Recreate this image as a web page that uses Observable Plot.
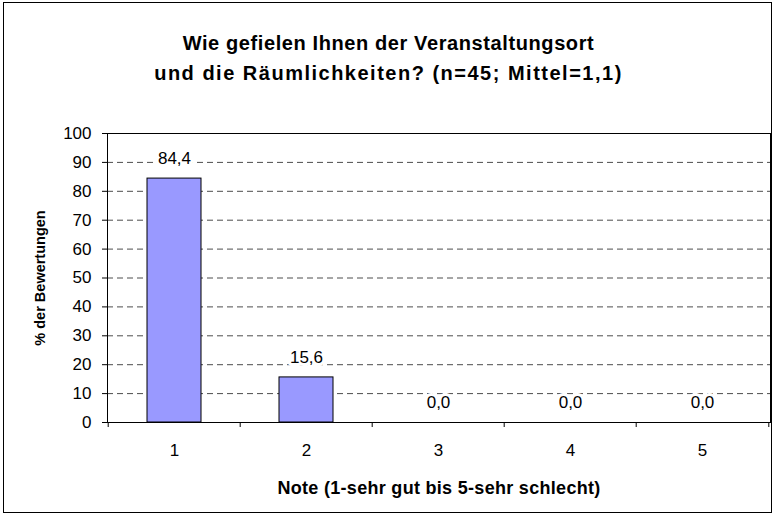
<!DOCTYPE html>
<html>
<head>
<meta charset="utf-8">
<script src="https://cdn.jsdelivr.net/npm/d3@7"></script>
<script src="https://cdn.jsdelivr.net/npm/@observablehq/plot@0.6"></script>
<style>
  body { margin: 0; background: #fff; }
  #wrap { position: relative; width: 774px; height: 515px; }
  #frame { position: absolute; left: 3px; top: 2px; width: 767px; height: 509px; border: 1px solid #000; pointer-events: none; }
  svg { font-family: "Liberation Sans", Arial, sans-serif; }
  .ttl1 text { letter-spacing: 0.6px; }
  .ttl2 text { letter-spacing: 1.5px; }
  .xl text { letter-spacing: 0.3px; }
</style>
</head>
<body>
<div id="wrap"><div id="frame"></div></div>
<script>
const titleLines = ["Wie gefielen Ihnen der Veranstaltungsort", "und die Räumlichkeiten? (n=45; Mittel=1,1)"];
const yLabel = "% der Bewertungen";
const xLabel = "Note (1-sehr gut bis 5-sehr schlecht)";
const grades = ["1", "2", "3", "4", "5"];
const percents = [84.4, 15.6, 0.0, 0.0, 0.0];
const yTicks = [0, 10, 20, 30, 40, 50, 60, 70, 80, 90, 100];
const gridValues = [10, 20, 30, 40, 50, 60, 70, 80, 90];

const data = grades.map((g, i) => ({grade: g, value: percents[i]}));
const fmt = v => v.toFixed(1).replace(".", ",");

const W = 774, H = 515;
const mLeft = 107, mRight = 4, mTop = 133, mBottom = 93;
const step = (W - mLeft - mRight) / grades.length;
const frameCx = mLeft + (W - mLeft - mRight) / 2;

const chart = Plot.plot({
  width: W,
  height: H,
  marginLeft: mLeft,
  marginRight: mRight,
  marginTop: mTop,
  marginBottom: mBottom,
  style: {fontFamily: '"Liberation Sans", Arial, sans-serif', fontSize: "17px", color: "#000", background: "transparent"},
  x: {type: "band", domain: grades, paddingInner: 0.59, paddingOuter: 0.295, axis: null},
  y: {domain: [0, 100], axis: null},
  marks: [
    Plot.ruleY(gridValues, {stroke: "#000", strokeOpacity: 0.7, strokeDasharray: "6,4", strokeWidth: 1}),
    Plot.barY(data, {x: "grade", y: "value", fill: "#9999FF", stroke: "#000", strokeWidth: 1}),
    Plot.text(data, {x: "grade", y: "value", text: d => fmt(d.value), dy: -20, fill: "#000", stroke: "#fff", strokeWidth: 6, paintOrder: "stroke", fontSize: 17}),
    Plot.frame({stroke: "#000", strokeWidth: 1}),
    Plot.axisY(yTicks, {tickSize: 5, tickPadding: 11, tickFormat: d => String(d), fontSize: 17, label: null}),
    Plot.axisX(grades, {tickSize: 5, dx: -step / 2, tickFormat: () => "", label: null}),
    Plot.axisX(["5"], {tickSize: 5, dx: step / 2, tickFormat: () => "", label: null}),
    Plot.axisX(grades, {tickSize: 0, tickPadding: 21, fontSize: 17, label: null}),
    Plot.text([xLabel], {frameAnchor: "bottom", lineAnchor: "middle", textAnchor: "middle", dy: 66, fontWeight: "bold", fontSize: 18, className: "xl"}),
    Plot.text([yLabel], {frameAnchor: "left", textAnchor: "middle", lineAnchor: "middle", dx: -67, rotate: -90, fontWeight: "bold", fontSize: 14.5}),
    Plot.text([titleLines[0]], {frameAnchor: "top", lineAnchor: "middle", textAnchor: "middle", dx: 388 - frameCx, dy: -90, fontWeight: "bold", fontSize: 20, className: "ttl1"}),
    Plot.text([titleLines[1]], {frameAnchor: "top", lineAnchor: "middle", textAnchor: "middle", dx: 388 - frameCx, dy: -60, fontWeight: "bold", fontSize: 20, className: "ttl2"})
  ]
});
chart.style.position = "absolute";
chart.style.left = "0px";
chart.style.top = "0px";
document.getElementById("wrap").prepend(chart);
</script>
</body>
</html>
